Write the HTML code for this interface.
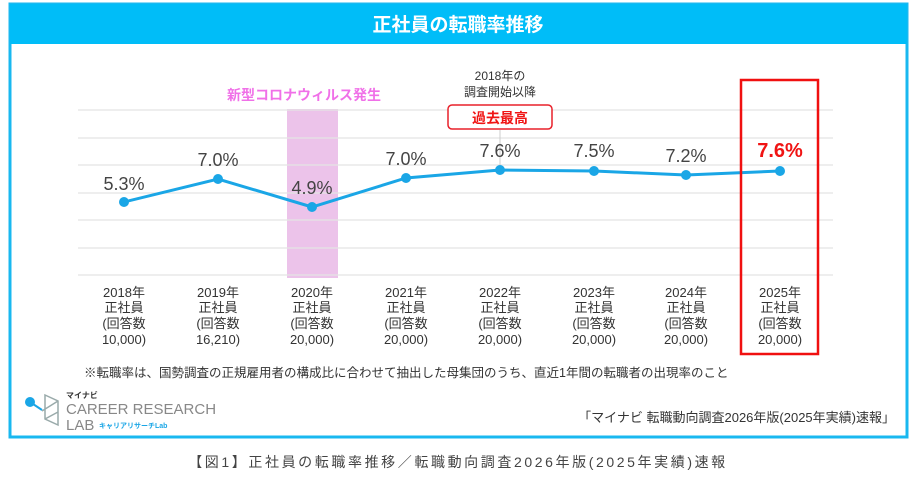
<!DOCTYPE html>
<html><head><meta charset="utf-8"><style>
body{margin:0;background:#fff;width:917px;height:484px;overflow:hidden;font-family:"Liberation Sans","Noto Sans CJK JP",sans-serif;}
</style></head><body>
<svg width="917" height="484" viewBox="0 0 917 484" xmlns="http://www.w3.org/2000/svg" font-family="Liberation Sans, Noto Sans CJK JP, sans-serif">
<rect x="10" y="4" width="897" height="433" fill="#fff" stroke="#19b8f0" stroke-width="3"/>
<rect x="10" y="4" width="897" height="40" fill="#00bdf8"/>
<text x="458" y="31" text-anchor="middle" font-size="19" font-weight="bold" fill="#fff">正社員の転職率推移</text>
<rect x="287" y="109" width="51" height="169" fill="#ecc3ea"/>
<g stroke="#e4e4e4" stroke-width="1.2">
<line x1="78" x2="833" y1="110" y2="110"/><line x1="78" x2="833" y1="138" y2="138"/>
<line x1="78" x2="833" y1="165" y2="165"/><line x1="78" x2="833" y1="193" y2="193"/>
<line x1="78" x2="833" y1="220" y2="220"/><line x1="78" x2="833" y1="248" y2="248"/>
<line x1="78" x2="833" y1="275" y2="275"/>
</g>
<line x1="500" y1="130" x2="500" y2="170" stroke="#ccc"/>
<polyline points="124,202 218,179 312,207 406,178 500,170 594,171 686,175 780,171" fill="none" stroke="#1aa6e6" stroke-width="3"/>
<g fill="#1aa6e6">
<circle cx="124" cy="202" r="5"/><circle cx="218" cy="179" r="5"/><circle cx="312" cy="207" r="5"/><circle cx="406" cy="178" r="5"/><circle cx="500" cy="170" r="5"/><circle cx="594" cy="171" r="5"/><circle cx="686" cy="175" r="5"/><circle cx="780" cy="171" r="5"/>
</g>
<g font-size="18" fill="#444" text-anchor="middle">
<text x="124" y="190">5.3%</text><text x="218" y="166">7.0%</text><text x="312" y="194">4.9%</text><text x="406" y="165">7.0%</text><text x="500" y="157">7.6%</text><text x="594" y="157">7.5%</text><text x="686" y="162">7.2%</text>
</g>
<text x="780" y="157" text-anchor="middle" font-size="20" font-weight="bold" fill="#f01414">7.6%</text>
<text x="304" y="100" text-anchor="middle" font-size="14" font-weight="bold" fill="#f070e8">新型コロナウィルス発生</text>
<text x="500" y="80" text-anchor="middle" font-size="12" fill="#333">2018年の</text>
<text x="500" y="96" text-anchor="middle" font-size="12" fill="#333">調査開始以降</text>
<rect x="448" y="105" width="104" height="24" rx="4" fill="#fff" stroke="#e8202a" stroke-width="1.5"/>
<text x="500" y="123" text-anchor="middle" font-size="14" font-weight="bold" fill="#f01414">過去最高</text>
<rect x="741" y="80" width="77" height="274" fill="none" stroke="#f01010" stroke-width="2.5"/>
<g font-size="13" fill="#333" text-anchor="middle">
<g transform="translate(124,0)"><text y="297">2018年</text><text y="312">正社員</text><text y="328">(回答数</text><text y="344">10,000)</text></g>
<g transform="translate(218,0)"><text y="297">2019年</text><text y="312">正社員</text><text y="328">(回答数</text><text y="344">16,210)</text></g>
<g transform="translate(312,0)"><text y="297">2020年</text><text y="312">正社員</text><text y="328">(回答数</text><text y="344">20,000)</text></g>
<g transform="translate(406,0)"><text y="297">2021年</text><text y="312">正社員</text><text y="328">(回答数</text><text y="344">20,000)</text></g>
<g transform="translate(500,0)"><text y="297">2022年</text><text y="312">正社員</text><text y="328">(回答数</text><text y="344">20,000)</text></g>
<g transform="translate(594,0)"><text y="297">2023年</text><text y="312">正社員</text><text y="328">(回答数</text><text y="344">20,000)</text></g>
<g transform="translate(686,0)"><text y="297">2024年</text><text y="312">正社員</text><text y="328">(回答数</text><text y="344">20,000)</text></g>
<g transform="translate(780,0)"><text y="297">2025年</text><text y="312">正社員</text><text y="328">(回答数</text><text y="344">20,000)</text></g>
</g>
<text x="84" y="377" font-size="12.5" fill="#333">※転職率は、国勢調査の正規雇用者の構成比に合わせて抽出した母集団のうち、直近1年間の転職者の出現率のこと</text>
<text x="895" y="422" text-anchor="end" font-size="13" fill="#333">「マイナビ 転職動向調査2026年版(2025年実績)速報」</text>
<g stroke="#9aa" stroke-width="1.5" fill="none">
<path d="M45,395 L58,401 L58,425 L45,419 Z M58,401 L42,411 M45,419 L58,412"/>
</g>
<line x1="30" y1="402" x2="42" y2="410" stroke="#1aa6e6" stroke-width="2"/>
<circle cx="30" cy="402" r="5" fill="#1aa6e6"/>
<text x="66" y="398" font-size="8" font-weight="bold" fill="#333">マイナビ</text>
<text x="66" y="414" font-size="15" fill="#888">CAREER RESEARCH</text>
<text x="66" y="430" font-size="15" fill="#888">LAB</text>
<text x="99" y="428" font-size="7" font-weight="bold" fill="#1aa6e6">キャリアリサーチLab</text>
<text x="458" y="467" text-anchor="middle" font-size="14" fill="#444" letter-spacing="2.6">【図1】正社員の転職率推移／転職動向調査2026年版(2025年実績)速報</text>
</svg>
</body></html>
